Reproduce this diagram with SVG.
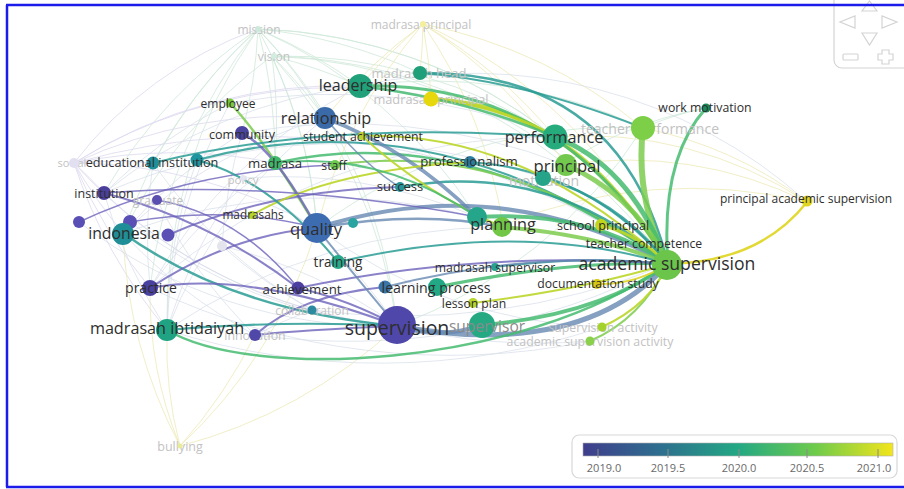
<svg xmlns="http://www.w3.org/2000/svg" width="904" height="489" viewBox="0 0 904 489">
<style>
text{font-family:"Open Sans","DejaVu Sans",sans-serif;text-anchor:middle;dominant-baseline:central}
.l{fill:#2e2e2e}
.fl{fill:#c2c2c2}
.e{fill:none;stroke-linecap:round}
.f{fill:none;stroke:#d6dde8;stroke-width:1;opacity:.7}
.fy{fill:none;stroke:#eeeab8;stroke-width:1;opacity:.8}
.fv{fill:none;stroke:#dcd9ef;stroke-width:1;opacity:.8}
.fg{fill:none;stroke:#cfe8d9;stroke-width:1;opacity:.8}
.ep{stroke:#6d63bb;opacity:.8}
.eb{stroke:#6788b2;opacity:.8}
.et{stroke:#2a9c94;opacity:.85}
.eg{stroke:#44bb70;opacity:.85}
.el{stroke:#7dcd4f;opacity:.85}
.ey{stroke:#bcd62a;opacity:.9}
.eY{stroke:#dfd51f;opacity:.9}
.nav{fill:none;stroke:#d4d4d4;stroke-width:1.2}
.tick{font-size:11px;fill:#6a6a6a}
</style>
<defs>
<linearGradient id="vir" x1="0" x2="1" y1="0" y2="0">
<stop offset="0" stop-color="#3f3d8c"/>
<stop offset="0.25" stop-color="#2e6f8e"/>
<stop offset="0.5" stop-color="#23a884"/>
<stop offset="0.75" stop-color="#6ecb4b"/>
<stop offset="1" stop-color="#f3e51b"/>
</linearGradient>
</defs>
<rect width="904" height="489" fill="#ffffff"/>

<g id="connectors">
<g id="faint-edges">
<path class="fg" d="M258,29 A500,500 0 0,1 360,86"/>
<path class="fg" d="M258,29 A500,500 0 0,1 325,118"/>
<path class="fg" d="M258,29 A500,500 0 0,1 317,228"/>
<path class="fg" d="M258,29 A500,500 0 0,1 275,163"/>
<path class="fg" d="M123,233 A500,500 0 0,1 258,29"/>
<path class="fg" d="M258,29 A500,500 0 0,1 397,326"/>
<path class="fg" d="M258,29 A500,500 0 0,1 668,264"/>
<path class="fg" d="M258,29 A500,500 0 0,1 555,137"/>
<path class="fg" d="M153,163 A500,500 0 0,1 258,29"/>
<path class="fg" d="M104,193 A500,500 0 0,1 258,29"/>
<path class="fg" d="M150,288 A500,500 0 0,1 258,29"/>
<path class="fg" d="M258,29 A500,500 0 0,1 477,217"/>
<path class="fg" d="M167,330 A500,500 0 0,1 258,29"/>
<path class="fg" d="M258,29 A500,500 0 0,1 242,133"/>
<path class="fg" d="M258,29 A500,500 0 0,1 420,73"/>
<path class="fg" d="M272,56 A500,500 0 0,1 360,86"/>
<path class="fg" d="M272,56 A500,500 0 0,1 325,118"/>
<path class="fg" d="M272,56 A500,500 0 0,1 317,228"/>
<path class="fg" d="M272,56 A500,500 0 0,1 668,264"/>
<path class="fg" d="M272,56 A500,500 0 0,1 555,137"/>
<path class="fg" d="M272,56 A500,500 0 0,1 397,326"/>
<path class="fg" d="M123,233 A500,500 0 0,1 272,56"/>
<path class="fg" d="M272,56 A500,500 0 0,1 275,163"/>
<path class="fg" d="M272,56 A500,500 0 0,1 566,165"/>
<path class="fy" d="M360,86 A500,500 0 0,1 423,24"/>
<path class="fy" d="M423,24 A500,500 0 0,1 431,99"/>
<path class="fy" d="M423,24 A500,500 0 0,1 420,73"/>
<path class="fy" d="M423,24 A500,500 0 0,1 555,137"/>
<path class="fy" d="M423,24 A500,500 0 0,1 566,165"/>
<path class="fy" d="M423,24 A500,500 0 0,1 668,264"/>
<path class="fy" d="M423,24 A500,500 0 0,1 643,128"/>
<path class="fy" d="M325,118 A500,500 0 0,1 423,24"/>
<path class="fy" d="M317,228 A500,500 0 0,1 423,24"/>
<path class="fy" d="M423,24 A500,500 0 0,1 503,225"/>
<path class="fv" d="M74,163 A500,500 0 0,0 123,233"/>
<path class="fv" d="M74,163 A500,500 0 0,1 104,193"/>
<path class="fv" d="M74,163 A500,500 0 0,1 153,163"/>
<path class="fv" d="M74,163 A500,500 0 0,1 317,228"/>
<path class="fv" d="M74,163 A500,500 0 0,0 397,326"/>
<path class="fv" d="M74,163 A500,500 0 0,0 167,330"/>
<path class="fv" d="M74,163 A500,500 0 0,0 150,288"/>
<path class="fv" d="M74,163 A500,500 0 0,1 325,118"/>
<path class="fv" d="M74,163 A500,500 0 0,1 360,86"/>
<path class="fv" d="M74,163 A400,400 0 0,1 258,29"/>
<path class="fv" d="M74,163 A700,700 0 0,1 668,264"/>
<path class="fv" d="M74,163 A500,500 0 0,1 275,163"/>
<path class="fv" d="M74,163 A500,500 0 0,1 555,137"/>
<path class="fy" d="M180,446 A400,400 0 0,1 167,330"/>
<path class="fy" d="M180,446 A500,500 0 0,0 397,326"/>
<path class="fy" d="M180,446 A500,500 0 0,0 317,228"/>
<path class="fy" d="M180,446 A400,400 0 0,1 150,288"/>
<path class="fy" d="M180,446 A500,500 0 0,1 123,233"/>
<path class="fy" d="M180,446 A500,500 0 0,0 255,335"/>
<path class="fy" d="M643,128 A400,400 0 0,1 807,202"/>
<path class="fy" d="M555,137 A400,400 0 0,1 807,202"/>
<path class="fy" d="M566,165 A400,400 0 0,1 807,202"/>
<path class="fy" d="M503,225 A500,500 0 0,1 807,202"/>
<path class="fg" d="M643,128 A300,300 0 0,1 706,108"/>
<path class="fg" d="M360,86 A500,500 0 0,1 643,128"/>
<path class="fg" d="M317,228 A500,500 0 0,1 643,128"/>
<path class="fg" d="M397,326 A500,500 0 0,0 643,128"/>
<path class="fg" d="M543,178 A400,400 0 0,1 706,108"/>
<path class="f" d="M104,193 A500,500 0 0,0 167,330"/>
<path class="f" d="M123,233 A500,500 0 0,0 255,335"/>
<path class="f" d="M153,163 A500,500 0 0,0 150,288"/>
<path class="f" d="M197,160 A500,500 0 0,0 167,330"/>
<path class="f" d="M242,133 A500,500 0 0,0 123,233"/>
<path class="f" d="M275,163 A500,500 0 0,0 150,288"/>
<path class="f" d="M230,103 A500,500 0 0,0 104,193"/>
<path class="f" d="M230,103 A500,500 0 0,0 167,330"/>
<path class="f" d="M325,118 A500,500 0 0,0 123,233"/>
<path class="f" d="M325,118 A500,500 0 0,0 167,330"/>
<path class="f" d="M360,86 A500,500 0 0,0 150,288"/>
<path class="f" d="M360,86 A500,500 0 0,0 104,193"/>
<path class="f" d="M243,178 A500,500 0 0,1 397,326"/>
<path class="f" d="M243,178 A500,500 0 0,1 477,217"/>
<path class="f" d="M243,178 A500,500 0 0,0 167,330"/>
<path class="f" d="M157,200 A500,500 0 0,0 255,335"/>
<path class="f" d="M222,246 A500,500 0 0,0 312,310"/>
<path class="f" d="M222,246 A500,500 0 0,1 397,326"/>
<path class="f" d="M312,310 A500,500 0 0,0 255,335"/>
<path class="f" d="M104,193 A500,500 0 0,0 312,310"/>
<path class="f" d="M153,163 A500,500 0 0,0 312,310"/>
<path class="f" d="M242,133 A500,500 0 0,0 222,246"/>
<path class="f" d="M79,222 A500,500 0 0,0 397,326"/>
<path class="f" d="M130,222 A500,500 0 0,0 397,326"/>
<path class="f" d="M123,233 A600,600 0 0,1 477,217"/>
<path class="f" d="M150,288 A600,600 0 0,1 555,137"/>
<path class="f" d="M167,330 A600,600 0 0,1 502,227"/>
<path class="f" d="M104,193 A600,600 0 0,1 543,178"/>
<path class="f" d="M397,326 A600,600 0 0,0 590,341"/>
<path class="f" d="M167,330 A700,700 0 0,0 602,327"/>
<path class="f" d="M150,288 A700,700 0 0,0 590,341"/>
<path class="f" d="M317,228 A500,500 0 0,0 602,327"/>
<path class="f" d="M255,335 A700,700 0 0,0 668,264"/>
<path class="f" d="M312,310 A700,700 0 0,0 668,264"/>
<path class="f" d="M360,86 A500,500 0 0,1 807,202"/>
<path class="f" d="M230,103 A600,600 0 0,1 555,137"/>
<path class="f" d="M242,133 A600,600 0 0,1 566,165"/>
</g>
<g id="main-edges">
<path class="e ey" stroke-width="4" d="M431,99 Q575,105 668,264"/>
<path class="e eg" stroke-width="3" d="M360,86 Q560,80 668,264"/>
<path class="e et" stroke-width="2.5" d="M420,73 Q620,70 668,264"/>
<path class="e eg" stroke-width="3" d="M706,108 Q660,160 668,264"/>
<path class="e el" stroke-width="6" d="M643,128 Q635,200 668,264"/>
<path class="e eg" stroke-width="5" d="M555,137 Q630,165 668,264"/>
<path class="e el" stroke-width="5" d="M566,165 Q635,195 668,264"/>
<path class="e eY" stroke-width="2.5" d="M807,202 Q760,262 668,264"/>
<path class="e et" stroke-width="2" d="M197,160 Q440,95 668,264"/>
<path class="e eg" stroke-width="2.5" d="M275,163 Q470,120 668,264"/>
<path class="e el" stroke-width="2" d="M335,165 Q510,140 668,264"/>
<path class="e et" stroke-width="2.5" d="M400,187 Q550,160 668,264"/>
<path class="e et" stroke-width="2" d="M470,162 Q590,170 668,264"/>
<path class="e eb" stroke-width="4" d="M317,228 Q500,170 668,264"/>
<path class="e eg" stroke-width="4" d="M477,217 Q590,210 668,264"/>
<path class="e el" stroke-width="4" d="M502,227 Q600,235 668,264"/>
<path class="e et" stroke-width="2" d="M338,262 Q520,220 668,264"/>
<path class="e eg" stroke-width="3" d="M437,287 Q570,260 668,264"/>
<path class="e et" stroke-width="2" d="M495,267 Q590,255 668,264"/>
<path class="e ey" stroke-width="2" d="M473,303 Q580,290 668,264"/>
<path class="e eg" stroke-width="4" d="M482,325 Q600,315 668,264"/>
<path class="e eb" stroke-width="5" d="M397,326 Q580,360 668,264"/>
<path class="e eg" stroke-width="2.5" d="M167,330 C250,380 520,370 668,264"/>
<path class="e el" stroke-width="2" d="M590,341 Q640,320 668,264"/>
<path class="e ey" stroke-width="2" d="M602,327 Q650,305 668,264"/>
<path class="e eY" stroke-width="2" d="M597,284 Q635,285 668,264"/>
<path class="e ey" stroke-width="3" d="M600,225 Q640,235 668,264"/>
<path class="e et" stroke-width="2.5" d="M543,178 Q620,200 668,264"/>
<path class="e ep" stroke-width="2" d="M298,288 Q480,250 668,264"/>
<path class="e eb" stroke-width="2" d="M385,287 Q530,250 668,264"/>
<path class="e ey" stroke-width="2" d="M362,136 Q520,130 668,264"/>
<path class="e ey" stroke-width="2" d="M362,136 Q420,190 502,227"/>
<path class="e et" stroke-width="2.5" d="M123,233 Q230,310 397,326"/>
<path class="e el" stroke-width="2.5" d="M230,103 Q265,140 317,228"/>
<path class="e ep" stroke-width="2.5" d="M242,133 Q275,150 317,228"/>
<path class="e eb" stroke-width="3.5" d="M325,118 Q410,150 477,217"/>
<path class="e ep" stroke-width="2" d="M104,193 Q210,220 298,288"/>
<path class="e ep" stroke-width="1.5" d="M79,222 Q190,170 335,165"/>
<path class="e ep" stroke-width="2" d="M168,235 Q270,190 400,187"/>
<path class="e ep" stroke-width="2" d="M150,288 Q230,235 317,228"/>
<path class="e ep" stroke-width="2" d="M255,335 Q300,295 385,287"/>
<path class="e ep" stroke-width="1.5" d="M130,222 Q230,205 317,228"/>
<path class="e ep" stroke-width="1.5" d="M157,200 Q240,215 298,288"/>
<path class="e ey" stroke-width="2" d="M252,215 Q330,170 470,162"/>
<path class="e et" stroke-width="2" d="M197,160 Q270,180 338,262"/>
<path class="e et" stroke-width="2" d="M153,163 Q330,120 555,137"/>
<path class="e eb" stroke-width="4" d="M397,326 Q440,340 482,325"/>
<path class="e eb" stroke-width="2" d="M317,228 Q350,270 397,326"/>
<path class="e ey" stroke-width="3" d="M431,99 Q500,105 555,137"/>
<path class="e eg" stroke-width="2.5" d="M360,86 Q470,100 555,137"/>
<path class="e et" stroke-width="2" d="M420,73 Q520,80 643,128"/>
<path class="e eb" stroke-width="2.5" d="M317,228 Q420,210 502,227"/>
<path class="e eb" stroke-width="1.5" d="M325,118 Q370,170 400,187"/>
<path class="e eg" stroke-width="2" d="M275,163 Q380,150 477,217"/>
<path class="e ep" stroke-width="2" d="M150,288 Q250,270 397,326"/>
<path class="e ep" stroke-width="1.5" d="M104,193 Q280,180 477,217"/>
<path class="e ep" stroke-width="2" d="M298,288 Q350,300 397,326"/>
<path class="e et" stroke-width="2" d="M167,330 Q280,320 397,326"/>
<path class="e ep" stroke-width="2" d="M255,335 Q300,330 397,326"/>
</g>
</g>

<g id="n-unlabeled-1"><circle cx="197" cy="160" r="6.5" fill="#1f95a0"/></g>
<g id="n-unlabeled-2"><circle cx="79" cy="222" r="6" fill="#5a4fb5"/></g>
<g id="n-unlabeled-3"><circle cx="130" cy="222" r="7" fill="#5a4fb5"/></g>
<g id="n-unlabeled-4"><circle cx="168" cy="235" r="6.5" fill="#5a4fb5"/></g>
<g id="n-unlabeled-5"><circle cx="353" cy="223" r="5" fill="#2aa4a0"/></g>
<g id="n-unlabeled-6"><circle cx="477" cy="217" r="10" fill="#25a68a"/></g>
<g id="n-unlabeled-7"><circle cx="385" cy="287" r="6.5" fill="#3a76a8"/></g>
<g id="n-unlabeled-8"><circle cx="222" cy="246" r="5" fill="#e4e4ec"/></g>

<g id="n-mission"><text class="fl" x="259" y="29" font-size="12">mission</text><circle cx="258" cy="29" r="3" fill="#cfe8dc"/></g>
<g id="n-vision"><text class="fl" x="274" y="56" font-size="12">vision</text><circle cx="274" cy="56" r="3" fill="#d3ece0"/></g>
<g id="n-madrasa-principal"><text class="fl" x="421" y="24" font-size="12">madrasa principal</text><circle cx="423" cy="24" r="3" fill="#f4ef9f"/></g>
<g id="n-madrasah-head"><text class="fl" x="419" y="73" font-size="13">madrasah head</text><circle cx="420" cy="73" r="7" fill="#1fa07a"/></g>
<g id="n-madrasah-principal"><text class="fl" x="431" y="99" font-size="12.8">madrasah principal</text><circle cx="431" cy="99" r="7.5" fill="#e7d70d"/></g>
<g id="n-teacher-performance"><text class="fl" x="650" y="128" font-size="14">teacher performance</text><circle cx="643" cy="128" r="12" fill="#7ccf46"/></g>
<g id="n-motivation"><text class="fl" x="544" y="180" font-size="14">motivation</text><circle cx="543" cy="178" r="8" fill="#25a48a"/></g>
<g id="n-social"><text class="fl" x="72" y="162" font-size="11">social</text><circle cx="74" cy="163" r="5" fill="#e2e0f0"/></g>
<g id="n-graduate"><text class="fl" x="158" y="200" font-size="12">graduate</text><circle cx="157" cy="200" r="5" fill="#5a4fb0"/></g>
<g id="n-policy"><text class="fl" x="243" y="179" font-size="11.5">policy</text><circle cx="243" cy="178" r="3" fill="#e6e4f0"/></g>
<g id="n-collaboration"><text class="fl" x="312" y="310" font-size="12">collaboration</text><circle cx="312" cy="310" r="4.5" fill="#2b8aa0"/></g>
<g id="n-innovation"><text class="fl" x="255" y="335" font-size="12.4">innovation</text><circle cx="255" cy="335" r="6" fill="#5048a8"/></g>
<g id="n-supervision-activity"><text class="fl" x="603" y="327" font-size="12.3">supervision activity</text><circle cx="602" cy="327" r="4.5" fill="#a4d22c"/></g>
<g id="n-academic-supervision-activity"><text class="fl" x="590" y="341" font-size="12.3">academic supervision activity</text><circle cx="590" cy="341" r="4.5" fill="#8bd04a"/></g>
<g id="n-bullying"><text class="fl" x="180" y="446" font-size="12.5">bullying</text><circle cx="180" cy="446" r="2.5" fill="#e6ec9c"/></g>

<g id="n-leadership"><circle cx="360" cy="86" r="12" fill="#21a179"/><text class="l" x="358" y="85" font-size="16">leadership</text></g>
<g id="n-relationship"><circle cx="325" cy="118" r="11" fill="#3a6aa8"/><text class="l" x="326" y="118" font-size="16.3">relationship</text></g>
<g id="n-employee"><circle cx="230" cy="103" r="4.5" fill="#7cc83c"/><text class="l" x="228" y="103" font-size="12">employee</text></g>
<g id="n-community"><circle cx="242" cy="133" r="7" fill="#4a43a0"/><text class="l" x="242" y="134" font-size="12.5">community</text></g>
<g id="n-student-achievement"><circle cx="362" cy="136" r="4" fill="#b8d22b"/><text class="l" x="363" y="136" font-size="12.2">student achievement</text></g>
<g id="n-performance"><circle cx="555" cy="137" r="12.5" fill="#25ab7c"/><text class="l" x="554" y="137" font-size="16.3">performance</text></g>
<g id="n-work-motivation"><circle cx="706" cy="108" r="4.5" fill="#168a5a"/><text class="l" x="705" y="107" font-size="12.3">work motivation</text></g>
<g id="n-educational-institution"><circle cx="153" cy="163" r="6.5" fill="#1f8f99"/><text class="l" x="152" y="162" font-size="12.7">educational institution</text></g>
<g id="n-madrasa"><circle cx="275" cy="163" r="7" fill="#3fb76a"/><text class="l" x="275" y="163" font-size="13.2">madrasa</text></g>
<g id="n-staff"><circle cx="335" cy="165" r="5" fill="#6ccb4c"/><text class="l" x="334" y="165" font-size="12.3">staff</text></g>
<g id="n-professionalism"><circle cx="470" cy="162" r="6" fill="#2a7d9c"/><text class="l" x="469" y="161" font-size="13.2">professionalism</text></g>
<g id="n-principal"><circle cx="566" cy="165" r="11" fill="#73c94e"/><text class="l" x="567" y="165" font-size="16.6">principal</text></g>
<g id="n-success"><circle cx="400" cy="187" r="5" fill="#27969a"/><text class="l" x="400" y="186" font-size="13">success</text></g>
<g id="n-institution"><circle cx="104" cy="193" r="7" fill="#4b3f9c"/><text class="l" x="104" y="193" font-size="12.5">institution</text></g>
<g id="n-indonesia"><circle cx="123" cy="234" r="11" fill="#1f8e96"/><text class="l" x="124" y="233" font-size="15.8">indonesia</text></g>
<g id="n-madrasahs"><circle cx="252" cy="215" r="4" fill="#b4d42a"/><text class="l" x="253" y="214" font-size="11.8">madrasahs</text></g>
<g id="n-quality"><circle cx="317" cy="228" r="15" fill="#3d6cb0"/><text class="l" x="316" y="228" font-size="16.6">quality</text></g>
<g id="n-planning"><circle cx="502" cy="227" r="10" fill="#72c846"/><text class="l" x="503" y="224" font-size="16.2">planning</text></g>
<g id="n-school-principal"><circle cx="601" cy="225" r="6" fill="#c3d61d"/><text class="l" x="603" y="225" font-size="12.6">school principal</text></g>
<g id="n-academic-supervision"><circle cx="667" cy="265" r="15" fill="#6bc54b"/><text class="l" x="667" y="263" font-size="17.6">academic supervision</text></g>
<g id="n-teacher-competence"><text class="l" x="644" y="243" font-size="12.2">teacher competence</text></g>
<g id="n-training"><circle cx="338" cy="262" r="7" fill="#26a98a"/><text class="l" x="338" y="261" font-size="13.6">training</text></g>
<g id="n-madrasah-supervisor"><circle cx="495" cy="267" r="4" fill="#2aa091"/><text class="l" x="495" y="267" font-size="12.2">madrasah supervisor</text></g>
<g id="n-documentation-study"><circle cx="597" cy="284" r="5" fill="#d8c80f"/><text class="l" x="598" y="283" font-size="12.2">documentation study</text></g>
<g id="n-practice"><circle cx="150" cy="288" r="8" fill="#4a40a0"/><text class="l" x="151" y="287" font-size="14">practice</text></g>
<g id="n-achievement"><circle cx="298" cy="288" r="6.5" fill="#4c3fa0"/><text class="l" x="302" y="289" font-size="13.2">achievement</text></g>
<g id="n-learning-process"><circle cx="437" cy="287" r="9" fill="#22a884"/><text class="l" x="436" y="287" font-size="14.2">learning process</text></g>
<g id="n-lesson-plan"><circle cx="473" cy="303" r="5" fill="#b7d52a"/><text class="l" x="474" y="303" font-size="12.2">lesson plan</text></g>
<g id="n-madrasah-ibtidaiyah"><circle cx="167" cy="330" r="11" fill="#1fa382"/><text class="l" x="167" y="328" font-size="16.2">madrasah ibtidaiyah</text></g>
<g id="n-supervisor"><circle cx="482" cy="325" r="13" fill="#25a983"/><text x="487" y="326" font-size="15.5" fill="#8a8a8a">supervisor</text></g>
<g id="n-supervision"><circle cx="397" cy="325" r="19" fill="#4f48aa"/><text class="l" x="397" y="327" font-size="19.5">supervision</text></g>
<g id="n-principal-academic-supervision"><circle cx="807" cy="201" r="5.5" fill="#e0d520"/><text class="l" x="806" y="198" font-size="12">principal academic supervision</text></g>

<g id="navigation">
<rect class="nav" x="834" y="-8" width="80" height="76" rx="8"/>
<polygon class="nav" points="862,11 877,11 869.5,1"/>
<polygon class="nav" points="855,16 855,28 840,22"/>
<polygon class="nav" points="882,16 882,28 897,22"/>
<polygon class="nav" points="862,33 877,33 869.5,45"/>
<rect class="nav" x="843" y="54" width="15" height="6" rx="1"/>
<path class="nav" d="M882,54 L882,50 L889,50 L889,54 L893,54 L893,60 L889,60 L889,64 L882,64 L882,60 L878,60 L878,54 Z"/>
</g>

<g id="legend">
<rect x="572" y="435" width="325" height="43" rx="7" fill="#ffffff" stroke="#d8d8d8" stroke-width="1.2"/>
<rect x="583" y="443" width="310" height="13" fill="url(#vir)" stroke="#b0b0b0" stroke-width="0.6"/>
<g stroke="#8a8a8a" stroke-width="1">
<line x1="598" y1="449" x2="598" y2="458"/>
<line x1="668" y1="449" x2="668" y2="458"/>
<line x1="739" y1="449" x2="739" y2="458"/>
<line x1="807" y1="449" x2="807" y2="458"/>
<line x1="878" y1="449" x2="878" y2="458"/>
</g>
<text class="tick" x="604" y="467">2019.0</text>
<text class="tick" x="668" y="467">2019.5</text>
<text class="tick" x="739" y="467">2020.0</text>
<text class="tick" x="807" y="467">2020.5</text>
<text class="tick" x="874" y="467">2021.0</text>
</g>

<g id="frame" stroke="#1c1cea" stroke-width="2.5" fill="none">
<line x1="6" y1="5" x2="904" y2="5"/>
<line x1="7" y1="5" x2="7" y2="487"/>
<line x1="6" y1="487" x2="904" y2="487"/>
</g>
</svg>
